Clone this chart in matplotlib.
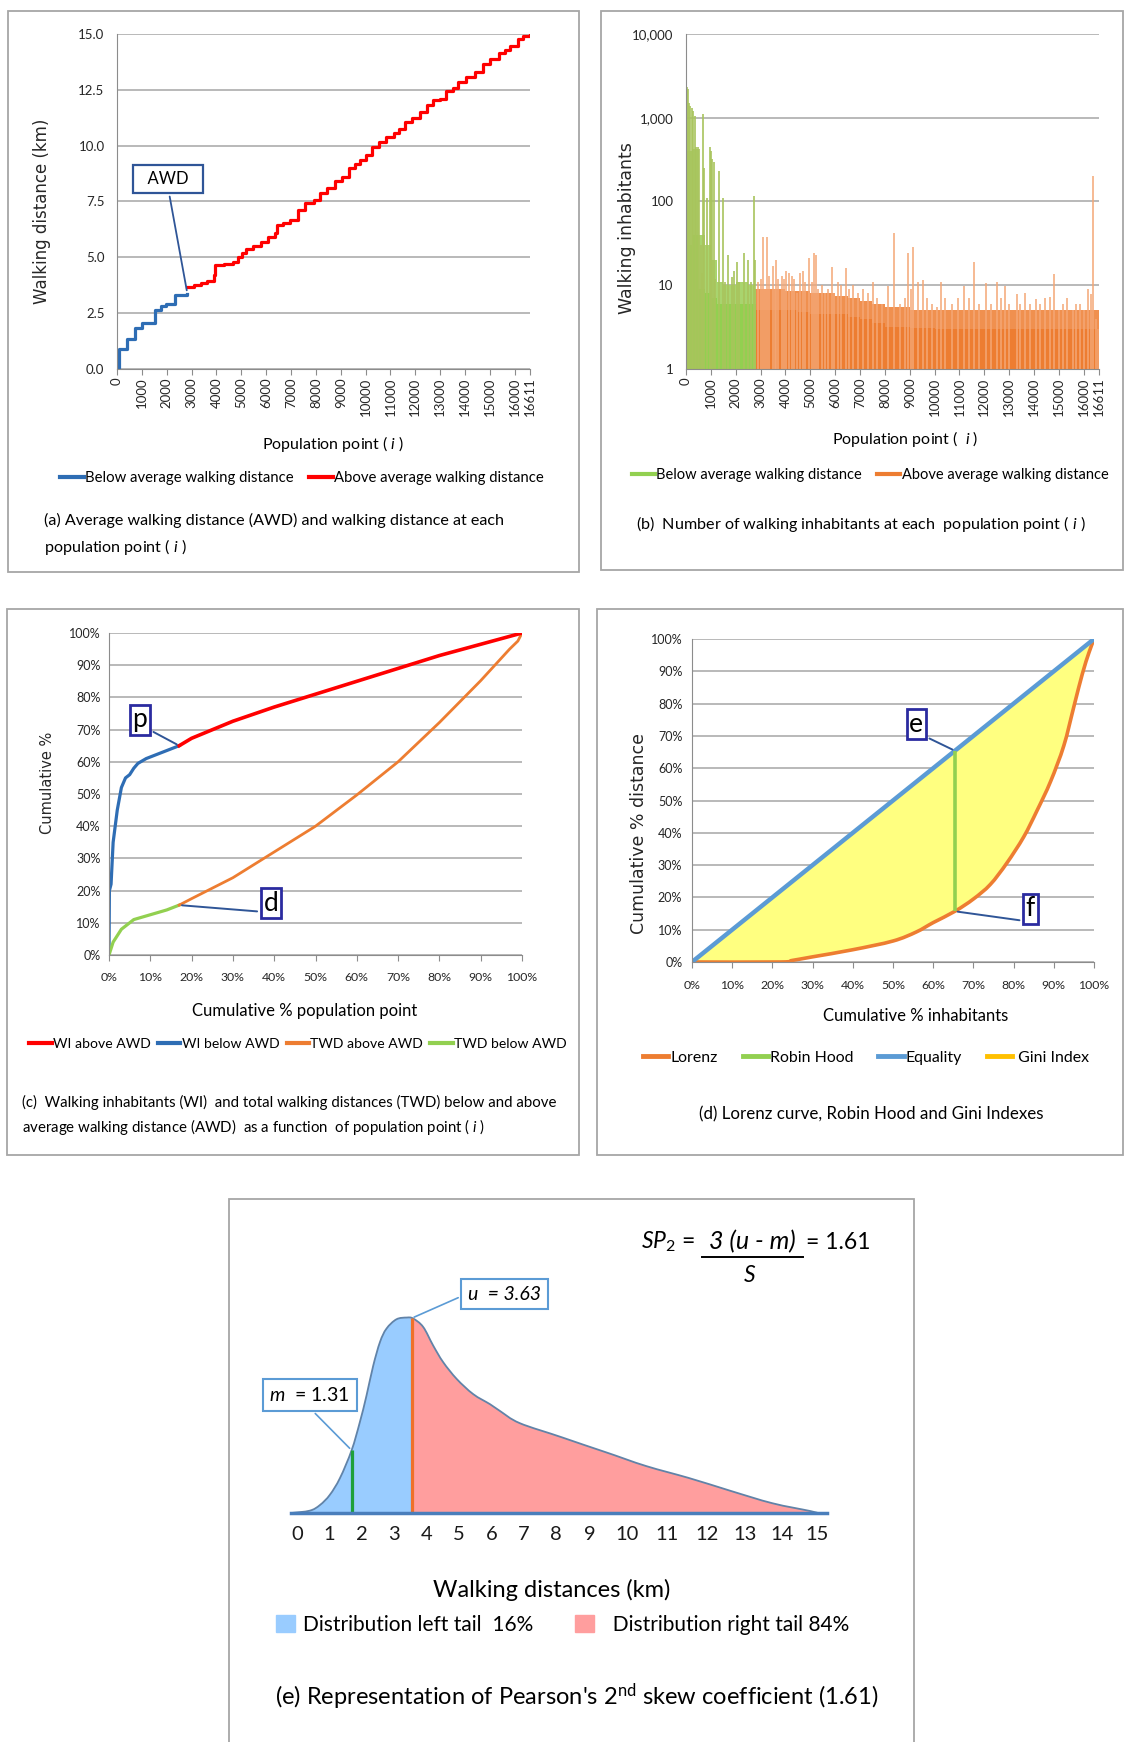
import matplotlib
matplotlib.use('Agg')
import matplotlib.pyplot as plt
from matplotlib.patches import Rectangle, Patch, PathPatch
from matplotlib.lines import Line2D
from matplotlib.path import Path
import numpy as np

plt.rcParams['font.family'] = ['Lato', 'DejaVu Sans']
plt.rcParams['mathtext.fontset'] = 'custom'
plt.rcParams['mathtext.rm'] = 'Lato'
plt.rcParams['mathtext.it'] = 'Lato:italic'
plt.rcParams['mathtext.bf'] = 'Lato:bold'

# ---------------- data ----------------
# (a) walking distance at each population point
below_i = [0, 90, 420, 740, 1010, 1530, 1760, 1980, 2350, 2826]
below_km = [0, 0.91, 1.33, 1.82, 2.07, 2.62, 2.8, 2.9, 3.33, 3.35]
above_i = [2826, 3095, 3393, 3616, 3914, 3958, 4286, 4658, 4881, 5030,
           5179, 5476, 5774, 6071, 6369, 6443, 6667, 6964, 7262, 7560,
           7932, 8155, 8452, 8750, 9048, 9345, 9568, 9792, 10015, 10238,
           10536, 10833, 11131, 11354, 11577, 11875, 12173, 12470, 12693, 12991,
           13214, 13512, 13735, 14033, 14405, 14702, 15000, 15372, 15595, 15818,
           16116, 16339, 16611]
above_km = [3.65, 3.78, 3.86, 3.95, 4.2, 4.64, 4.7, 4.78, 5.0, 5.2,
            5.36, 5.52, 5.69, 5.9, 6.1, 6.43, 6.55, 6.68, 7.1, 7.43,
            7.56, 7.9, 8.1, 8.4, 8.59, 9.0, 9.17, 9.34, 9.6, 9.92,
            10.17, 10.41, 10.55, 10.75, 11.08, 11.24, 11.5, 11.82, 12.04, 12.1,
            12.44, 12.6, 12.87, 13.07, 13.3, 13.65, 13.86, 14.15, 14.3, 14.48,
            14.76, 14.92, 15.0]
pop_ticks = [0, 1000, 2000, 3000, 4000, 5000, 6000, 7000, 8000, 9000, 10000,
             11000, 12000, 13000, 14000, 15000, 16000, 16611]

# (b) walking inhabitants (log scale)
green_edges = [0, 250, 500, 750, 1000, 1250, 1500, 1750, 2000, 2250, 2500, 2750, 2826]
green_solid = [30, 40, 9, 8, 7, 6, 6, 6, 6, 6, 6, 6]
green_fringe = [400, 420, 40, 30, 20, 11, 10, 10, 11, 11, 10, 9]
green_spike_i = [40, 90, 130, 180, 230, 290, 350, 400, 470, 520, 600, 650, 700, 740,
                 840, 950, 1000, 1050, 1130, 1180, 1330, 1480, 1560, 1703, 1837, 1944,
                 2052, 2150, 2347, 2494, 2600, 2749, 2790]
green_spike_n = [2300, 2200, 1500, 1400, 1300, 1200, 1050, 450, 450, 420, 30, 14, 1100, 250,
                 110, 450, 400, 320, 300, 12, 230, 110, 11, 23, 12.5, 15,
                 19, 11, 24, 20, 11, 115, 20]
orange_edges = [2826, 3500, 4000, 4500, 5000, 5500, 6000, 6500, 7000, 7500, 8000,
                9000, 10000, 11000, 12000, 13000, 14000, 15000, 16000, 16611]
orange_solid = [5, 5, 5, 4.8, 4.5, 4.5, 4.5, 4.2, 4, 3.5, 3.2, 3.1, 3, 3, 3, 3, 3, 3, 3]
orange_fringe = [9, 9, 8.5, 8.5, 8, 8, 7.5, 7, 6.5, 6, 5.5, 5, 5, 5, 5, 5, 5, 5, 5]
orange_spike_i = [2900, 3000, 3111, 3180, 3259, 3350, 3487, 3560, 3621, 3720, 3850, 3950,
                  4023, 4157, 4250, 4360, 4480, 4600, 4694, 4800, 4935, 5050, 5136, 5230,
                  5300, 5450, 5600, 5700, 5860, 5950, 6100, 6250, 6437, 6550, 6700, 6900,
                  7110, 7300, 7510, 7700, 7900, 8113, 8379, 8600, 8800, 8943, 9040, 9144,
                  9345, 9519, 9700, 9900, 10100, 10257, 10400, 10700, 10950, 11182, 11400,
                  11585, 11800, 12054, 12250, 12496, 12650, 12832, 13000, 13301, 13450,
                  13636, 13850, 14065, 14250, 14440, 14642, 14816, 15000, 15150, 15340,
                  15550, 15700, 15849, 16000, 16184, 16291, 16385, 16480, 16560]
orange_spike_n = [11, 12, 38, 9, 38, 13, 17, 9, 20, 12, 13, 12,
                  15, 14, 13, 12, 8, 14, 15, 11, 21, 11, 24, 23,
                  9, 10, 8, 9, 16.6, 8, 11, 10, 16, 9, 10, 8,
                  9, 8, 11, 7, 6, 9.7, 41.7, 6, 7, 24, 9, 29,
                  11, 11.7, 7, 6, 5.5, 11, 7, 6, 7, 9.7, 7,
                  19, 6, 10.5, 6, 11, 7, 9.7, 6, 7.9, 6,
                  8.1, 6, 6.9, 6, 7, 7.2, 13.8, 5, 6, 7,
                  5, 6, 6, 5, 8.9, 7.9, 200, 4, 3]
log_ticks = [1, 10, 100, 1000, 10000]
log_labels = ['1', '10', '100', '1,000', '10,000']

# (c) cumulative % curves
wi_below_x = [0, 0.1, 0.5, 1, 2, 3, 4, 5, 6, 7, 9, 12, 17]
wi_below_y = [0, 20, 22, 35, 45, 52, 55, 56, 58, 59.5, 61, 62.5, 65]
wi_above_x = [17, 20, 30, 40, 50, 60, 70, 80, 90, 100]
wi_above_y = [65, 67.3, 72.6, 77, 81, 85, 89, 93, 96.5, 100]
twd_below_x = [0, 0.5, 1, 2, 3, 4, 6, 10, 14, 17]
twd_below_y = [0, 2, 4, 6, 8, 9, 11, 12.5, 14, 15.5]
twd_above_x = [17, 20, 30, 40, 50, 60, 70, 80, 90, 97, 99, 100]
twd_above_y = [15.5, 17.5, 24, 32, 40, 49.7, 60, 72.2, 85.2, 95, 97.5, 100]
pct_ticks = [0, 10, 20, 30, 40, 50, 60, 70, 80, 90, 100]

# (d) Lorenz curve
lorenz_x = [0, 22, 25, 30, 40, 50, 55.8, 60, 65.4, 70, 74.2, 78.3, 82.5, 85.8, 89.2,
            92.5, 95, 97.1, 98.75, 99.8]
lorenz_y = [0, 0, 0.5, 1.6, 3.8, 6.5, 9.3, 12.2, 15.7, 19.5, 24, 30.6, 38.7, 46.8, 55.9,
            67, 79.1, 89.2, 95.8, 99.3]
equality_x = [0, 100]
equality_y = [0, 100]
robin_x = 65.4

# (e) walking distance distribution
dist_km = [-0.2, 0.385, 0.70, 1.006, 1.32, 1.68, 1.93, 2.14, 2.35, 2.56, 2.76, 3.07, 3.39,
           3.59, 3.90, 4.21, 4.52, 4.94, 5.44, 5.94, 6.25, 6.86, 8.17, 9.38, 10.47, 11.52,
           12.60, 13.74, 14.80, 15.0]
dist_density = [0, 0.012, 0.041, 0.093, 0.179, 0.321, 0.462, 0.60, 0.754, 0.875, 0.943,
                0.991, 1.0, 0.995, 0.952, 0.857, 0.772, 0.686, 0.608, 0.557, 0.522, 0.46,
                0.387, 0.314, 0.24, 0.18, 0.114, 0.05, 0.01, 0]
median_at = 1.68
mode_at = 3.54
km_ticks = list(range(16))
# the km labels of the original sit at uneven spacing; piecewise scale to mimic it
scale_km = [-1] + km_ticks + [16]
scale_pos = [265.4, 297.6, 329.8, 362.1, 394.3, 426.5, 458.7, 492.0, 524.2, 556.4,
             589.7, 627.5, 667.5, 707.5, 745.2, 781.9, 817.4, 852.9]

# ---------------- figure ----------------
W, H = 1125, 1742
fig = plt.figure(figsize=(W / 100, H / 100), dpi=100)


def axes_px(x0, y0, x1, y1):
    return fig.add_axes([x0 / W, 1 - y1 / H, (x1 - x0) / W, (y1 - y0) / H])


def fx(x):
    return x / W


def fy(y):
    return 1 - y / H


def panel_box(x0, y0, x1, y1):
    fig.add_artist(Rectangle((fx(x0), fy(y1)), (x1 - x0) / W, (y1 - y0) / H,
                             transform=fig.transFigure, fill=False,
                             ec='#A6A6A6', lw=1.3))


def style(ax, ypad):
    for s in ['top', 'right']:
        ax.spines[s].set_visible(False)
    ax.spines['left'].set_color('#8C8C8C')
    ax.spines['bottom'].set_color('#8C8C8C')
    ax.grid(axis='y', color='#A6A6A6', lw=1.1)
    ax.set_axisbelow(True)
    ax.tick_params(axis='y', length=0, pad=ypad, labelsize=9.5, labelcolor='#262626')
    ax.tick_params(axis='x', length=4, color='#8C8C8C', labelsize=9.5, labelcolor='#262626')


def ylabel(x, y, s, size):
    fig.text(fx(x), fy(y), s, rotation=90, ha='center', va='center',
             fontsize=size, family='DejaVu Sans', color='#262626')


def smooth_verts(x, y):
    # smooth (Catmull-Rom as cubic bezier) path through the read points, like Excel's smoothed lines
    pts = np.column_stack([x, y]).astype(float)
    p = np.vstack([pts[0], pts, pts[-1]])
    verts = [pts[0]]
    codes = [Path.MOVETO]
    for k in range(1, len(p) - 2):
        verts += [p[k] + (p[k + 1] - p[k - 1]) / 6, p[k + 1] - (p[k + 2] - p[k]) / 6, p[k + 1]]
        codes += [Path.CURVE4] * 3
    return verts, codes


BLUE = '#2E6DB4'
RED = '#FF0000'
ORANGE = '#ED7D31'
GREEN = '#92D050'
SKY = '#5B9BD5'
BOXBLUE = '#2B2BA0'

# ---- (a) ----
panel_box(8, 11, 579, 572)
ax = axes_px(117, 34, 530, 369)
style(ax, 9)
ax.plot(below_i, below_km, drawstyle='steps-post', color=BLUE, lw=2.3)
ax.plot(above_i, above_km, drawstyle='steps-post', color=RED, lw=2.3)
ax.set_xlim(0, 16611)
ax.set_ylim(0, 15)
ax.set_yticks([0, 2.5, 5, 7.5, 10, 12.5, 15])
ax.set_yticklabels(['0.0', '2.5', '5.0', '7.5', '10.0', '12.5', '15.0'])
ax.set_xticks(pop_ticks)
ax.set_xticklabels([str(t) for t in pop_ticks], rotation=90)
ax.tick_params(axis='x', pad=2)
ax.annotate('  AWD  ', xy=(2826, 3.4), xytext=(2050, 8.5), ha='center', va='center',
            fontsize=12, bbox=dict(boxstyle='square,pad=0.35', fc='white', ec='#2F5597', lw=1.6),
            arrowprops=dict(arrowstyle='-', color='#2F5597', lw=1.3, relpos=(0.5, 0)))
ax.legend([Line2D([0], [0], color=BLUE, lw=3), Line2D([0], [0], color=RED, lw=3)],
          ['Below average walking distance', 'Above average walking distance'],
          loc='center', bbox_to_anchor=(fx(302), fy(478)), bbox_transform=fig.transFigure,
          ncol=2, frameon=False, fontsize=10.7, handlelength=1.6, handletextpad=0.1,
          columnspacing=1.0)
fig.text(fx(333), fy(444), r'Population point ( $\mathit{i}$ )', ha='center', va='center', fontsize=11.5)
ylabel(42, 211, 'Walking distance (km)', 12)
fig.text(fx(44), fy(520), '(a) Average walking distance (AWD) and walking distance at each',
         ha='left', va='center', fontsize=11.6)
fig.text(fx(44), fy(547), r'population point ( $\mathit{i}$ )', ha='left', va='center', fontsize=11.6)

# ---- (b) ----
panel_box(601, 11, 1123, 570)
ax = axes_px(686, 34, 1099, 369)
style(ax, 9)
ax.set_yscale('log')
ax.stairs(green_fringe, green_edges, baseline=1, fill=True, color='#A9D46E')
ax.stairs(orange_fringe, orange_edges, baseline=1, fill=True, color='#F0904F')
ax.vlines(green_spike_i, 1, green_spike_n, color='#A8C45C', lw=1.2)
ax.vlines(orange_spike_i, 1, orange_spike_n, color='#F4A775', lw=1.1)
ax.stairs(green_solid, green_edges, baseline=1, fill=True, color=GREEN)
ax.stairs(orange_solid, orange_edges, baseline=1, fill=True, color=ORANGE)
ax.set_xlim(0, 16611)
ax.set_ylim(1, 10000)
ax.set_yticks(log_ticks)
ax.set_yticklabels(log_labels)
ax.minorticks_off()
ax.set_xticks(pop_ticks)
ax.set_xticklabels([str(t) for t in pop_ticks], rotation=90)
ax.tick_params(axis='x', pad=2)
ax.legend([Line2D([0], [0], color=GREEN, lw=3), Line2D([0], [0], color=ORANGE, lw=3)],
          ['Below average walking distance', 'Above average walking distance'],
          loc='center', bbox_to_anchor=(fx(870), fy(475)), bbox_transform=fig.transFigure,
          ncol=2, frameon=False, fontsize=10.5, handlelength=1.6, handletextpad=0.1,
          columnspacing=1.0)
fig.text(fx(905), fy(439), r'Population point (  $\mathit{i}$ )', ha='center', va='center', fontsize=11.5)
ylabel(627, 228, 'Walking inhabitants', 12.5)
fig.text(fx(861), fy(524), r'(b)  Number of walking inhabitants at each  population point ( $\mathit{i}$ )',
         ha='center', va='center', fontsize=11.6)

# ---- (c) ----
panel_box(7, 609, 579, 1155)
ax = axes_px(109, 633, 522, 955)
style(ax, 6)
ax.plot(wi_below_x, wi_below_y, color=BLUE, lw=2.3)
ax.plot(twd_below_x, twd_below_y, color=GREEN, lw=2.3)
ax.plot(twd_above_x, twd_above_y, color=ORANGE, lw=2.0)
ax.plot(wi_above_x, wi_above_y, color=RED, lw=2.6)
ax.set_xlim(0, 100)
ax.set_ylim(0, 100)
ax.set_xticks(pct_ticks)
ax.set_xticklabels([f'{t}%' for t in pct_ticks])
ax.set_yticks(pct_ticks)
ax.set_yticklabels([f'{t}%' for t in pct_ticks])
ax.tick_params(axis='x', pad=8, labelsize=8.8)
ax.tick_params(axis='y', labelsize=9)
ax.annotate('p', xy=(17, 65), xytext=(7.5, 73), ha='center', va='center', fontsize=19,
            bbox=dict(boxstyle='square,pad=0.1', fc='white', ec=BOXBLUE, lw=2),
            arrowprops=dict(arrowstyle='-', color='#2F5597', lw=1.4, relpos=(1, 0.15)))
ax.annotate('d', xy=(17, 15.5), xytext=(39.2, 16.1), ha='center', va='center', fontsize=19,
            bbox=dict(boxstyle='square,pad=0.1', fc='white', ec=BOXBLUE, lw=2),
            arrowprops=dict(arrowstyle='-', color='#2F5597', lw=1.4, relpos=(0, 0.15)))
ax.legend([Line2D([0], [0], color=c, lw=3) for c in [RED, BLUE, ORANGE, GREEN]],
          ['WI above AWD', 'WI below AWD', 'TWD above AWD', 'TWD below AWD'],
          loc='center', bbox_to_anchor=(fx(298), fy(1044)), bbox_transform=fig.transFigure,
          ncol=4, frameon=False, fontsize=10.1, handlelength=1.6, handletextpad=0.1,
          columnspacing=0.5)
fig.text(fx(305), fy(1011), 'Cumulative % population point', ha='center', va='center', fontsize=12)
ylabel(48, 783, 'Cumulative %', 10.5)
fig.text(fx(22), fy(1102), '(c)  Walking inhabitants (WI)  and total walking distances (TWD) below and above',
         ha='left', va='center', fontsize=10.8)
fig.text(fx(22), fy(1127), r'average walking distance (AWD)  as a function  of population point ( $\mathit{i}$ )',
         ha='left', va='center', fontsize=10.8)

# ---- (d) ----
panel_box(597, 609, 1123, 1155)
ax = axes_px(692, 639, 1094, 962)
style(ax, 7)
lv, lc = smooth_verts(lorenz_x, lorenz_y)
gini_verts = lv + [(equality_x[1], equality_y[1]), (equality_x[0], equality_y[0])]
gini_codes = lc + [Path.LINETO, Path.CLOSEPOLY]
ax.add_patch(PathPatch(Path(gini_verts, gini_codes), fc='#FFFF80', lw=0))
ax.plot(equality_x, equality_y, color=SKY, lw=3.2)
ax.add_patch(PathPatch(Path(lv, lc), fill=False, ec=ORANGE, lw=2.6, capstyle='round'))
ax.vlines(robin_x, np.interp(robin_x, lorenz_x, lorenz_y), robin_x, color=GREEN, lw=2.6)
ax.set_xlim(0, 100)
ax.set_ylim(0, 100)
ax.set_xticks(pct_ticks)
ax.set_xticklabels([f'{t}%' for t in pct_ticks])
ax.set_yticks(pct_ticks)
ax.set_yticklabels([f'{t}%' for t in pct_ticks])
ax.tick_params(axis='x', pad=9, labelsize=8.8)
ax.tick_params(axis='y', labelsize=9)
ax.annotate('e', xy=(robin_x, robin_x), xytext=(55.8, 73.6), ha='center', va='center', fontsize=19,
            bbox=dict(boxstyle='square,pad=0.1', fc='white', ec=BOXBLUE, lw=2),
            arrowprops=dict(arrowstyle='-', color='#2F5597', lw=1.4, relpos=(1, 0.05)))
ax.annotate('f', xy=(robin_x, np.interp(robin_x, lorenz_x, lorenz_y)), xytext=(84.2, 16.5),
            ha='center', va='center', fontsize=19,
            bbox=dict(boxstyle='square,pad=0.1', fc='white', ec=BOXBLUE, lw=2),
            arrowprops=dict(arrowstyle='-', color='#2F5597', lw=1.4, relpos=(0.05, 0)))
ax.legend([Line2D([0], [0], color=c, lw=3.5) for c in [ORANGE, GREEN, SKY, '#FFC000']],
          ['Lorenz', 'Robin Hood', 'Equality', ' Gini Index'],
          loc='center', bbox_to_anchor=(fx(866), fy(1058)), bbox_transform=fig.transFigure,
          ncol=4, frameon=False, fontsize=11.4, handlelength=1.6, handletextpad=0.1,
          columnspacing=1.6)
fig.text(fx(916), fy(1016), 'Cumulative % inhabitants', ha='center', va='center', fontsize=12)
ylabel(639, 833, 'Cumulative % distance', 12.5)
fig.text(fx(871), fy(1114), '(d) Lorenz curve, Robin Hood and Gini Indexes',
         ha='center', va='center', fontsize=12.2)

# ---- (e) ----
panel_box(229, 1199, 914, 1760)
ax = axes_px(291, 1298, 827, 1513)
ax.set_xscale('function', functions=(lambda v: np.interp(v, scale_km, scale_pos),
                                     lambda v: np.interp(v, scale_pos, scale_km)))
ax.set_xlim(-0.2, 15.27)
ax.set_ylim(0, 1.1)
dv, dc = smooth_verts(dist_km, dist_density)
area = Path(dv + [(dist_km[0], 0), (dist_km[0], 0)], dc + [Path.LINETO, Path.CLOSEPOLY])
left_fill = PathPatch(area, fc='#99CCFF', lw=0)
right_fill = PathPatch(area, fc='#FF9E9E', lw=0)
ax.add_patch(left_fill)
ax.add_patch(right_fill)
left_fill.set_clip_path(Rectangle((-1, -0.5), mode_at + 1, 2, transform=ax.transData))
right_fill.set_clip_path(Rectangle((mode_at, -0.5), 17 - mode_at, 2, transform=ax.transData))
ax.add_patch(PathPatch(Path(dv, dc), fill=False, ec='#6183A8', lw=1.3))
mode_h = np.interp(mode_at, dist_km, dist_density)
median_h = np.interp(median_at, dist_km, dist_density)
ax.vlines(median_at, 0, median_h, color='#1EA03A', lw=2.3)
ax.vlines(mode_at, 0, mode_h, color='#F07028', lw=2.3)
for s in ['top', 'right', 'left']:
    ax.spines[s].set_visible(False)
ax.spines['bottom'].set_color('#4A7EBB')
ax.spines['bottom'].set_linewidth(2.5)
ax.set_yticks([])
ax.set_xticks(km_ticks)
ax.set_xticklabels([str(t) for t in km_ticks])
ax.minorticks_off()
ax.tick_params(axis='x', length=0, pad=9, labelsize=14.5, labelcolor='#1A1A1A')
ax.annotate(r'$m$  = 1.31', xy=(median_at, median_h), xytext=(0.385, 0.604),
            ha='center', va='center', fontsize=14, annotation_clip=False,
            bbox=dict(boxstyle='square,pad=0.35', fc='white', ec=SKY, lw=1.5),
            arrowprops=dict(arrowstyle='-', color=SKY, lw=1.2, relpos=(0.45, 0)))
ax.annotate('u  = 3.63', xy=(mode_at, mode_h), xytext=(6.4, 1.12), style='italic',
            ha='center', va='center', fontsize=14, annotation_clip=False,
            bbox=dict(boxstyle='square,pad=0.35', fc='white', ec=SKY, lw=1.5),
            arrowprops=dict(arrowstyle='-', color=SKY, lw=1.2, relpos=(0, 0.55)))
# Pearson formula: numerator inline, underlined, S beneath
fig.text(fx(641), fy(1242), r'$SP_2$ =', ha='left', va='center', fontsize=16.5)
fig.text(fx(752), fy(1242), '3 (u - m)', style='italic', ha='center', va='center', fontsize=18)
fig.add_artist(Line2D([fx(702), fx(803)], [fy(1257), fy(1257)], color='black', lw=1.4,
                      transform=fig.transFigure))
fig.text(fx(806), fy(1242), '= 1.61', ha='left', va='center', fontsize=16.5)
fig.text(fx(750), fy(1275), 'S', style='italic', ha='center', va='center', fontsize=16.5)
ax.legend([Patch(color='#99CCFF'), Patch(color='#FF9E9E')],
          ['Distribution left tail  16%', '  Distribution right tail 84%'],
          loc='center', bbox_to_anchor=(fx(563), fy(1625)), bbox_transform=fig.transFigure,
          ncol=2, frameon=False, fontsize=15, handlelength=0.9, handleheight=0.9,
          handletextpad=0.4, columnspacing=2.0)
fig.text(fx(552), fy(1590), 'Walking distances (km)', ha='center', va='center', fontsize=17)
fig.text(fx(577), fy(1697), r"(e) Representation of Pearson's 2$^{\mathrm{nd}}$ skew coefficient (1.61)",
         ha='center', va='center', fontsize=17)

fig.savefig('out.png', dpi=100, facecolor='white')
